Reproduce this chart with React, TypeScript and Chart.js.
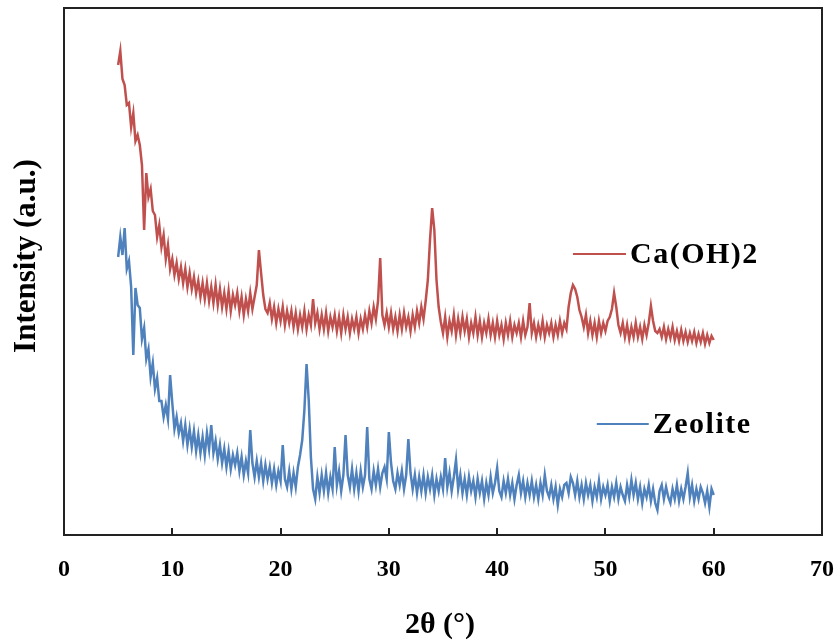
import React, { useEffect, useRef } from "react";
import { Chart, registerables } from "chart.js";

Chart.register(...registerables);

// Sampling grid of the diffractograms (2θ, degrees)
const angleStart = 5;
const angleStep = 0.2;

// Ca(OH)2 intensities (a.u.), one value per 0.2° from 5° to 60°
const caOH2 = [
  470, 484, 456, 450, 430,
  432, 408, 422, 394, 400,
  390, 370, 305, 362, 338,
  346, 324, 320, 298, 310,
  288, 300, 276, 290, 266,
  276, 260, 272, 256, 268,
  252, 266, 248, 262, 246,
  258, 242, 254, 238, 252,
  236, 252, 234, 248, 232,
  250, 230, 246, 228, 242,
  226, 244, 224, 240, 230,
  242, 224, 238, 220, 236,
  224, 242, 226, 238, 250,
  285, 262, 240, 226, 222,
  232, 216, 228, 212, 226,
  214, 228, 210, 224, 212,
  224, 208, 222, 206, 220,
  208, 224, 206, 220, 210,
  236, 212, 222, 206, 220,
  206, 222, 204, 218, 208,
  220, 204, 218, 202, 220,
  206, 218, 202, 216, 206,
  218, 202, 216, 206, 220,
  208, 224, 212, 228, 216,
  234, 277, 220, 210, 222,
  208, 222, 206, 218, 204,
  220, 206, 222, 208, 218,
  204, 220, 208, 224, 212,
  228, 216, 234, 255, 295,
  327, 305, 255, 228, 213,
  202, 218, 198, 214, 204,
  220, 200, 216, 202, 218,
  204, 216, 198, 212, 202,
  218, 200, 214, 198, 212,
  202, 216, 200, 212, 198,
  214, 200, 210, 196, 212,
  200, 214, 198, 210, 202,
  212, 198, 214, 200, 208,
  232, 202, 212, 198, 210,
  200, 214, 198, 210, 202,
  212, 198, 210, 200, 214,
  202, 212, 206, 228, 242,
  250, 246, 238, 225, 218,
  208, 220, 202, 214, 200,
  212, 198, 214, 202, 212,
  204, 214, 218, 226, 242,
  228, 210, 202, 212, 198,
  210, 196, 208, 198, 212,
  198, 208, 196, 210, 200,
  212, 229, 214, 204, 202,
  206, 198, 208, 196, 206,
  197, 208, 195, 204, 194,
  205, 194, 203, 193, 202,
  194, 203, 192, 201, 193,
  202, 191, 200, 192, 199,
  195,
];

// Zeolite intensities (a.u.), one value per 0.2° from 5° to 60°
const zeolite = [
  278, 298, 280, 307, 266,
  274, 248, 180, 247, 230,
  227, 196, 207, 176, 186,
  158, 172, 146, 157, 134,
  134, 118, 130, 116, 160,
  132, 106, 118, 102, 112,
  94, 110, 90, 106, 88,
  104, 84, 100, 82, 98,
  80, 102, 86, 110, 82,
  94, 76, 90, 72, 86,
  68, 84, 66, 80, 70,
  82, 64, 78, 60, 74,
  62, 105, 72, 58, 74,
  58, 72, 54, 70, 56,
  68, 52, 66, 50, 64,
  54, 90, 56, 48, 64,
  46, 62, 48, 68, 80,
  95, 125, 171, 135, 78,
  46, 36, 58, 42, 60,
  44, 62, 42, 58, 46,
  88, 50, 64, 44, 60,
  100, 60, 48, 66, 46,
  62, 44, 64, 48, 60,
  108, 56, 46, 64, 50,
  66, 48, 62, 68, 56,
  103, 72, 54, 46, 62,
  50, 64, 46, 60, 96,
  62, 46, 60, 42, 58,
  44, 60, 42, 58, 46,
  60, 40, 56, 44, 58,
  46, 77, 48, 62, 44,
  58, 75, 46, 60, 42,
  56, 40, 58, 44, 54,
  38, 56, 42, 54, 36,
  52, 40, 58, 42, 52,
  67, 44, 38, 54, 42,
  56, 40, 52, 36, 50,
  60, 42, 54, 38, 52,
  40, 54, 38, 50, 36,
  52, 40, 60, 44, 38,
  50, 36, 48, 30, 46,
  38, 50, 52, 42, 58,
  52, 40, 54, 38, 50,
  36, 52, 40, 50, 34,
  48, 38, 54, 36, 48,
  40, 50, 34, 48, 38,
  52, 36, 48, 40, 34,
  50, 38, 55, 40, 52,
  36, 48, 32, 46, 38,
  50, 34, 46, 32, 25,
  44, 50, 36, 48, 38,
  32, 46, 36, 50, 34,
  46, 36, 48, 62, 38,
  50, 34, 46, 36, 48,
  42, 32, 44, 28, 46,
  40,
];

const xTickValues = [0, 10, 20, 30, 40, 50, 60, 70];
const seriesNames = ["Ca(OH)2", "Zeolite"];
const seriesColors = ["#C0504D", "#4F81BD"];
// inline label anchors in data units: [line start x, line end x, y]
const labelAnchors = [
  [47.0, 51.9, 281],
  [49.2, 54.0, 111],
];
const xTitle = "2θ (°)";
const yTitle = "Intensity (a.u.)";

const FONT = '"Liberation Serif", "Times New Roman", serif';

const toPoints = (vals: number[]) =>
  vals.map((v, i) => ({ x: +(angleStart + angleStep * i).toFixed(2), y: v }));

const decorPlugin = {
  id: "decor",
  afterDraw(chart: any) {
    const { ctx, chartArea, scales } = chart;
    const xs = scales.x;
    const ys = scales.y;
    ctx.save();
    // frame
    ctx.strokeStyle = "#222";
    ctx.lineWidth = 2;
    ctx.strokeRect(chartArea.left, chartArea.top, chartArea.right - chartArea.left, chartArea.bottom - chartArea.top);
    // inside tick marks
    ctx.beginPath();
    xTickValues.forEach((v) => {
      const px = Math.round(xs.getPixelForValue(v));
      ctx.moveTo(px, chartArea.bottom);
      ctx.lineTo(px, chartArea.bottom - 7);
    });
    ctx.stroke();
    // inline series labels
    labelAnchors.forEach((a, i) => {
      const x1 = xs.getPixelForValue(a[0]);
      const x2 = xs.getPixelForValue(a[1]);
      const y = ys.getPixelForValue(a[2]);
      ctx.strokeStyle = seriesColors[i];
      ctx.lineWidth = 2;
      ctx.beginPath();
      ctx.moveTo(x1, y);
      ctx.lineTo(x2, y);
      ctx.stroke();
      ctx.fillStyle = "#000";
      ctx.font = `bold 30px ${FONT}`;
      ctx.textBaseline = "middle";
      ctx.textAlign = "left";
      (ctx as any).letterSpacing = "1.5px";
      ctx.fillText(seriesNames[i], x2 + 4, y + 1);
      (ctx as any).letterSpacing = "0px";
    });
    // axis titles
    ctx.fillStyle = "#000";
    ctx.font = `bold 30px ${FONT}`;
    ctx.textAlign = "center";
    ctx.textBaseline = "middle";
    ctx.fillText(xTitle, 440, 625);
    ctx.font = `bold 31px ${FONT}`;
    ctx.translate(27, 256);
    ctx.rotate(-Math.PI / 2);
    ctx.fillText(yTitle, 0, 0);
    ctx.restore();
  },
};

export default function App() {
  const ref = useRef<HTMLCanvasElement | null>(null);
  useEffect(() => {
    if (!ref.current) return;
    const chart = new Chart(ref.current, {
      type: "line",
      data: {
        datasets: [
          {
            label: seriesNames[0],
            data: toPoints(caOH2),
            borderColor: seriesColors[0],
            borderWidth: 2.5,
            pointRadius: 0,
            tension: 0,
          },
          {
            label: seriesNames[1],
            data: toPoints(zeolite),
            borderColor: seriesColors[1],
            borderWidth: 2.5,
            pointRadius: 0,
            tension: 0,
          },
        ],
      },
      options: {
        animation: false,
        responsive: false,
        devicePixelRatio: 1,
        layout: { padding: { left: 64, right: 17, top: 8, bottom: 0 } },
        plugins: { legend: { display: false }, tooltip: { enabled: false } },
        scales: {
          x: {
            type: "linear",
            min: 0,
            max: 70,
            afterBuildTicks: (s: any) => {
              s.ticks = xTickValues.map((v) => ({ value: v }));
            },
            ticks: {
              color: "#000",
              font: { family: FONT, size: 24, weight: "bold" },
              padding: 4,
              maxRotation: 0,
              autoSkip: false,
            },
            grid: { display: false, drawTicks: true, tickLength: 16 },
            border: { display: false },
            afterFit: (s: any) => {
              s.height = 108;
            },
          },
          y: { display: false, min: 0, max: 527 },
        },
      },
      plugins: [decorPlugin],
    } as any);
    return () => chart.destroy();
  }, []);
  return (
    <div style={{ position: "fixed", left: 0, top: 0, width: 839, height: 643, background: "#fff" }}>
      <canvas ref={ref} width={839} height={643} style={{ width: 839, height: 643 }} />
    </div>
  );
}
